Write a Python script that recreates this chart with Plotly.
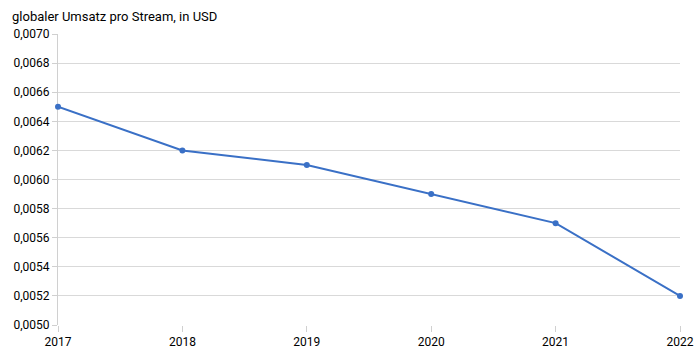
import plotly.graph_objects as go

years = [2017, 2018, 2019, 2020, 2021, 2022]
revenue = [0.0065, 0.0062, 0.0061, 0.0059, 0.0057, 0.0052]
title_text = "globaler Umsatz pro Stream, in USD"

font_family = "Roboto, sans-serif"

fig = go.Figure()
fig.add_trace(go.Scatter(
    x=years, y=revenue, mode="lines+markers",
    line=dict(color="#3a70c6", width=2),
    marker=dict(color="#3a70c6", size=6),
    hoverinfo="skip", cliponaxis=False,
))

fig.update_layout(
    width=700, height=352,
    margin=dict(l=58, r=20, t=34, b=27, autoexpand=False),
    paper_bgcolor="white", plot_bgcolor="white",
    separators=", ",
    font=dict(family=font_family, size=12, color="#000000"),
    showlegend=False,
    annotations=[dict(
        text=title_text, xref="paper", yref="paper", x=-0.0772, y=1.0,
        xanchor="left", yanchor="bottom", yshift=8, showarrow=False,
        font=dict(family=font_family, size=13, color="#000000"),
    )],
)
fig.update_xaxes(
    range=[2017, 2022], tickmode="array", tickvals=years,
    ticktext=[str(y) for y in years], automargin=False,
    showgrid=False, showline=False, zeroline=False,
    ticks="outside", ticklen=6, tickcolor="#d0d0d0",
    layer="below traces",
)
fig.update_yaxes(
    range=[0.0050, 0.0070], dtick=0.0002, tick0=0.0050, tickformat=".4f",
    automargin=False,
    showgrid=True, gridcolor="#d9d9d9", gridwidth=1,
    showline=True, linecolor="#d0d0d0", zeroline=False,
    ticks="outside", ticklen=5, tickcolor="#d0d0d0",
    layer="below traces",
)

fig.write_html("out.html")
